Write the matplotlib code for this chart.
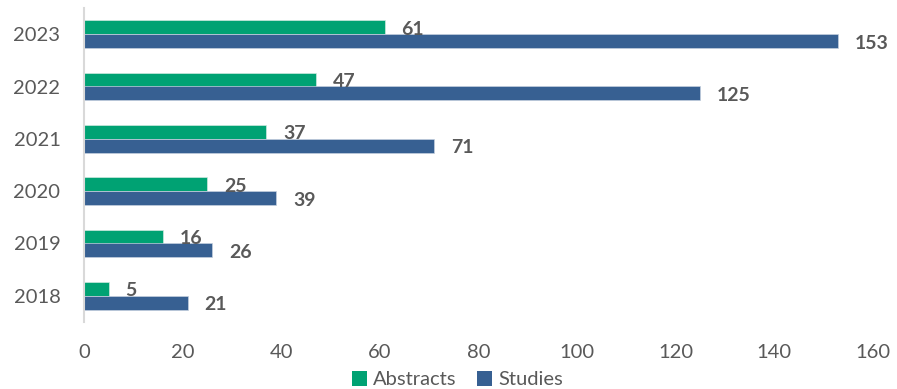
import matplotlib
matplotlib.use("Agg")
import matplotlib.pyplot as plt
import numpy as np

years = ["2018", "2019", "2020", "2021", "2022", "2023"]
abstracts = [5, 16, 25, 37, 47, 61]
studies = [21, 26, 39, 71, 125, 153]

green = "#00A273"
blue = "#376092"
gray = "#595959"

plt.rcParams['font.family'] = ['Lato', 'DejaVu Sans']

fig = plt.figure(figsize=(8.97, 3.89), dpi=100)
ax = fig.add_axes([84/897, 1-322/389, (873-84)/897, (322-8)/389])

y = np.arange(len(years))
h = 0.266
ax.barh(y + h/2, abstracts, height=h, color=green, edgecolor="#cfe9df", linewidth=0.5, label="Abstracts")
ax.barh(y - h/2, studies, height=h, color=blue, edgecolor="#c5d0de", linewidth=0.5, label="Studies")

for yi, a, s in zip(y, abstracts, studies):
    ax.annotate(str(a), (a, yi + h/2), xytext=(12, -1.5), textcoords="offset points",
                ha="left", va="center", fontsize=14, fontweight="bold", color=gray)
    ax.annotate(str(s), (s, yi - h/2), xytext=(12, -1.5), textcoords="offset points",
                ha="left", va="center", fontsize=14, fontweight="bold", color=gray)

ax.set_xlim(0, 160)
ax.set_ylim(-0.5, 5.5)
ax.set_xticks(np.arange(0, 161, 20))
ax.set_yticks(y)
ax.set_yticklabels(years)
ax.tick_params(axis="both", length=0, labelsize=14.5, labelcolor=gray)
ax.tick_params(axis="x", pad=16)
ax.tick_params(axis="y", pad=17)
for side in ["top", "right", "bottom"]:
    ax.spines[side].set_visible(False)
ax.spines["left"].set_color("#d9d9d9")
ax.spines["left"].set_linewidth(1.5)

handles, labels = ax.get_legend_handles_labels()
leg = fig.legend(handles, labels, loc="lower center", bbox_to_anchor=(0.51, -0.045), ncol=2,
                 frameon=False, fontsize=14.5, handlelength=0.75, handleheight=0.75,
                 handletextpad=0.3, columnspacing=1.0, labelcolor=gray)
for hnd in leg.legend_handles:
    hnd.set_edgecolor("none")

fig.savefig("out.png", dpi=100)
